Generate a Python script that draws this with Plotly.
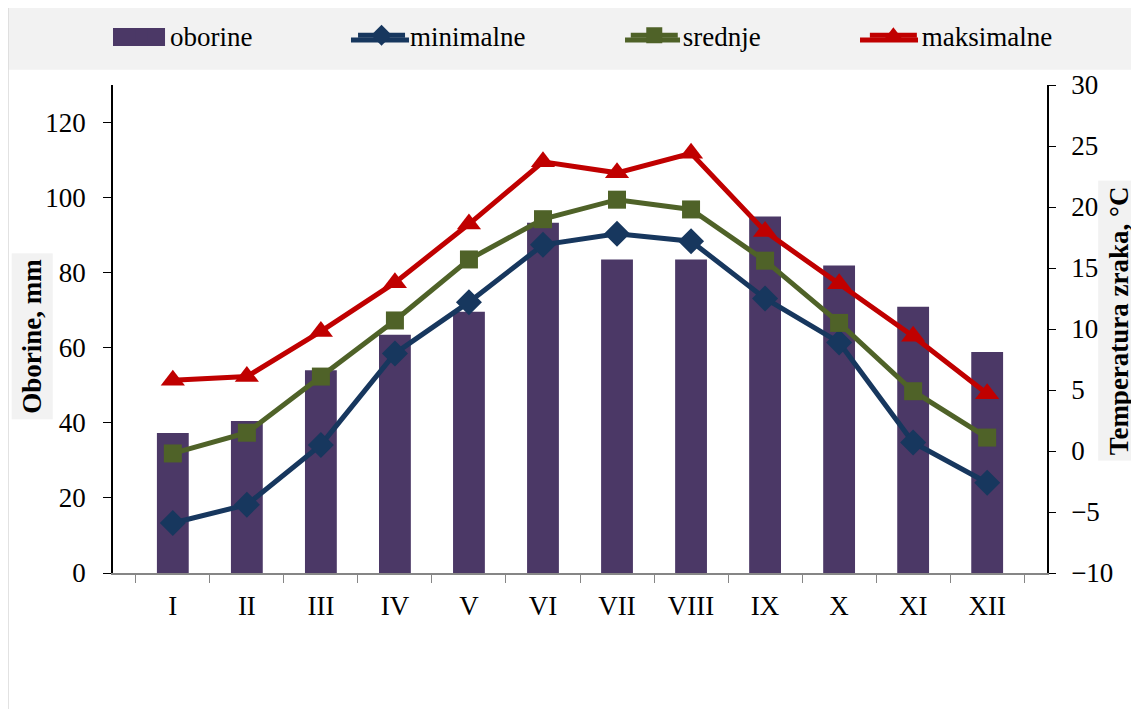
import plotly.graph_objects as go

months = ["I", "II", "III", "IV", "V", "VI", "VII", "VIII", "IX", "X", "XI", "XII"]
oborine = [37.3, 40.5, 54.0, 63.5, 69.6, 93.3, 83.5, 83.5, 95.0, 81.9, 70.9, 58.9]
minimalne = [-5.9, -4.4, 0.5, 8.0, 12.2, 16.9, 17.8, 17.2, 12.5, 8.9, 0.7, -2.6]
srednje = [-0.2, 1.5, 6.1, 10.7, 15.7, 19.0, 20.6, 19.8, 15.6, 10.5, 4.9, 1.1]
maksimalne = [5.8, 6.1, 9.8, 13.8, 18.6, 23.7, 22.8, 24.4, 18.0, 13.7, 9.4, 4.7]

left_ticks = [0, 20, 40, 60, 80, 100, 120]
right_ticks = [-10, -5, 0, 5, 10, 15, 20, 25, 30]

FONT = "Liberation Serif, Times New Roman, serif"
FS = 27

C_BAR = "#4b3866"
C_MIN = "#17375e"
C_MID = "#4f6228"
C_MAX = "#c00000"

fig = go.Figure()
fig.add_trace(go.Bar(
    x=months, y=oborine, name="oborine", legend="legend",
    marker=dict(color=C_BAR, line=dict(width=0)),
    yaxis="y",
))
fig.add_trace(go.Scatter(
    x=months, y=minimalne, name="minimalne", mode="lines+markers",
    legend="legend2",
    line=dict(color=C_MIN, width=5),
    marker=dict(symbol="diamond", size=20, color=C_MIN),
    yaxis="y2",
))
fig.add_trace(go.Scatter(
    x=months, y=srednje, name="srednje", mode="lines+markers",
    legend="legend3",
    line=dict(color=C_MID, width=5),
    marker=dict(symbol="square", size=18, color=C_MID),
    yaxis="y2",
))
fig.add_trace(go.Scatter(
    x=months, y=maksimalne, name="maksimalne", mode="lines+markers",
    legend="legend4",
    line=dict(color=C_MAX, width=5),
    marker=dict(symbol="triangle-up", size=21, color=C_MAX),
    yaxis="y2",
))

LEG_Y = 1.101


def leg(x):
    return dict(
        orientation="h", x=x, xanchor="left", y=LEG_Y, yanchor="middle",
        bgcolor="rgba(0,0,0,0)", font=dict(family=FONT, size=FS),
        itemwidth=47,
    )


def leg_line(x0, x1, color):
    return dict(type="line", xref="paper", yref="paper", x0=x0, x1=x1,
                y0=1.0922, y1=1.0922, line=dict(color=color, width=5),
                layer="above")


fig.update_layout(
    width=1139, height=701,
    margin=dict(l=105, r=100, t=77, b=136, autoexpand=False),
    paper_bgcolor="white", plot_bgcolor="white",
    font=dict(family=FONT, size=FS, color="black"),
    bargap=0.57,
    showlegend=True,
    legend=leg(0.0),
    legend2=leg(0.257),
    legend3=leg(0.549),
    legend4=leg(0.805),
    xaxis=dict(
        type="category", showline=True, linecolor="#868686", linewidth=1.5,
        ticks="outside", tickson="boundaries", ticklen=8, tickcolor="#868686",
        showgrid=False, tickfont=dict(family=FONT, size=FS),
        ticklabelstandoff=8,
    ),
    yaxis=dict(
        range=[0, 130], tickvals=left_ticks, showline=True, linecolor="black",
        linewidth=1.5, ticks="outside", ticklen=8, tickcolor="black",
        showgrid=False, zeroline=False, tickfont=dict(family=FONT, size=FS),
        ticklabelstandoff=12,
    ),
    yaxis2=dict(
        range=[-10, 30], tickvals=right_ticks, overlaying="y", side="right",
        showline=True, linecolor="black", linewidth=1.5, ticks="outside",
        ticklen=7, tickcolor="black", showgrid=False, zeroline=False,
        tickfont=dict(family=FONT, size=FS), ticklabelstandoff=10,
    ),
    shapes=[
        dict(type="rect", xref="paper", yref="paper", x0=-0.1124, x1=1.12,
             y0=1.031, y1=1.158, fillcolor="#f2f2f2", line=dict(width=0),
             layer="below"),
        dict(type="line", xref="paper", yref="paper", x0=-0.1124, x1=-0.1124,
             y0=-0.28, y1=1.158, line=dict(color="#d9d9d9", width=1.5)),
        dict(type="rect", xref="paper", yref="paper", x0=0.0, x1=0.0557,
             y0=1.0799, y1=1.1168, fillcolor=C_BAR, line=dict(width=0),
             layer="above"),
        leg_line(0.2548, 0.3169, C_MIN),
        leg_line(0.5482, 0.6071, C_MID),
        leg_line(0.7998, 0.8619, C_MAX),
    ],
    annotations=[
        dict(text="<b>Oborine, mm</b>", xref="paper", yref="paper",
             x=-0.0867, y=0.484, xanchor="center", yanchor="middle",
             textangle=-90, showarrow=False,
             bgcolor="#f2f2f2", font=dict(family=FONT, size=FS),
             borderpad=5),
        dict(text="<b>Temperatura zraka, °C</b>", xref="paper", yref="paper",
             x=1.077, y=0.518, xanchor="center", yanchor="middle",
             textangle=-90, showarrow=False,
             bgcolor="#f2f2f2", font=dict(family=FONT, size=FS),
             borderpad=5),
    ],
)

fig.write_html("out.html")
